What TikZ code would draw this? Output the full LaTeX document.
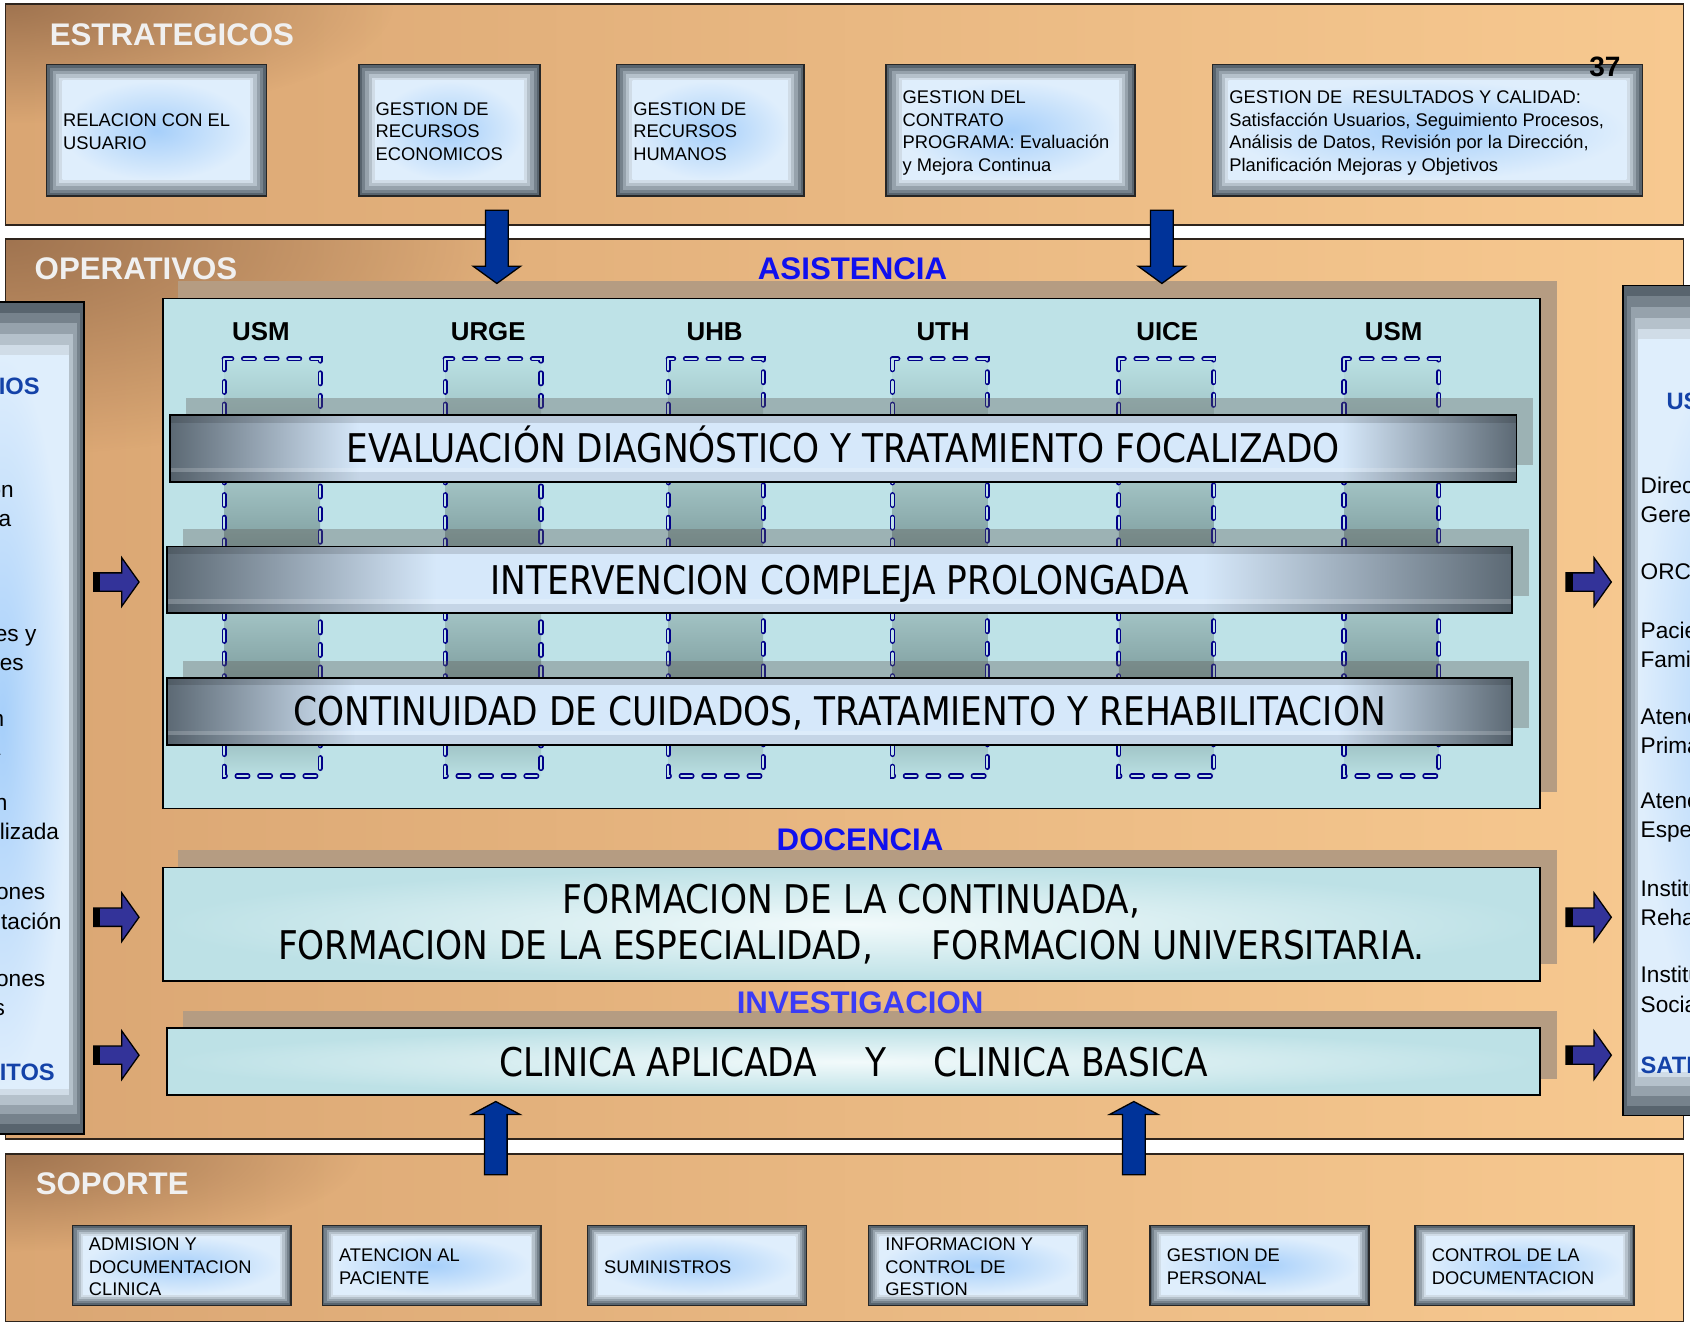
\documentclass[tikz,border=0pt]{standalone}
\usepackage{fontspec}
\setmainfont{Liberation Sans}
\newfontfamily\tah[FakeStretch=0.87]{DejaVu Sans}
\usetikzlibrary{calc,fadings}

\definecolor{orL}{HTML}{DAA673}
\definecolor{orR}{HTML}{F7C990}
\definecolor{cornerB}{HTML}{A07450}
\definecolor{bandB}{HTML}{2E241C}
\definecolor{titleC}{HTML}{F0F0F0}
\definecolor{taupe}{HTML}{B59C82}
\definecolor{panelCyan}{HTML}{BEE2E7}
\definecolor{colA}{HTML}{BAE0E3}
\definecolor{colB}{HTML}{A0C4C6}
\definecolor{colC}{HTML}{A2C3C4}
\definecolor{colD}{HTML}{7F9E9F}
\definecolor{dashBlue}{HTML}{000088}
\definecolor{dashIn}{HTML}{C2E3E8}
\definecolor{shadowgray}{HTML}{5F5A55}
\definecolor{barDark}{HTML}{5C6974}
\definecolor{barLight}{HTML}{D6E8FA}
\definecolor{bvA}{HTML}{58646E}
\definecolor{bvB}{HTML}{76828C}
\definecolor{bvC}{HTML}{96A2AC}
\definecolor{bvD}{HTML}{B5C1CB}
\definecolor{bvE}{HTML}{D0DCE7}
\definecolor{glowIn}{HTML}{A6CFFA}
\definecolor{glowOut}{HTML}{DFEEFC}
\definecolor{docIn}{HTML}{F2FAFB}
\definecolor{docOut}{HTML}{BDE1E6}
\definecolor{arrBlue}{HTML}{003399}
\definecolor{arrIndigo}{HTML}{333399}
\definecolor{lblBlue}{HTML}{1010EE}
\definecolor{lblBlueB}{HTML}{3B3BF5}
\definecolor{panelBlue}{HTML}{1442A8}

\tikzfading[name=cornerfade, inner color=transparent!0, outer color=transparent!100]

\newcommand{\bandbg}[5]{%
  \shade[left color=orL, right color=orR] (#1,#2) rectangle (#3,#4);
  \begin{scope}
    \clip (#1,#2) rectangle (#3,#4);
    \fill[cornerB, path fading=cornerfade] (#1,#2) ellipse (#5);
  \end{scope}
  \draw[bandline] (#1,#2) rectangle (#3,#4);}

\newcommand{\vblockdown}[1]{\draw[vblock] (#1) ++(-10.5,0) -- ++(0,52) -- ++(-11.5,0) -- ++(22,16) -- ++(22,-16) -- ++(-11.5,0) -- ++(0,-52) -- cycle;}
\newcommand{\vblockup}[1]{\draw[vblock] (#1) ++(-10.5,0) -- ++(0,-56) -- ++(-12,0) -- ++(22.5,-12) -- ++(22.5,12) -- ++(-12,0) -- ++(0,56) -- cycle;}
\newcommand{\hblockright}[1]{\draw[hblock] (#1) ++(0,-8.5) -- ++(26,0) -- ++(0,-14) -- ++(16,22.5) -- ++(-16,22.5) -- ++(0,-14) -- ++(-26,0) -- cycle;
  \fill[black] (#1) ++(0,-8.5) rectangle ++(6,17);}

\tikzset{
  bandline/.style={draw=bandB, line width=1.6pt},
  ttl/.style={font=\bfseries\fontsize{29}{32}\selectfont, text=titleC, inner sep=0pt, anchor=west},
  seclbl/.style={font=\bfseries\fontsize{29}{32}\selectfont, inner sep=0pt},
  hdr/.style={font=\bfseries\fontsize{24}{28}\selectfont, inner sep=0pt},
  boxtxt/.style={font=\fontsize{17}{21}\selectfont, align=left, inner sep=0pt, anchor=west},
  paneltxt/.style={font=\fontsize{21}{27}\selectfont, align=left, inner sep=0pt, anchor=west},
  panelttl/.style={font=\bfseries\fontsize{22}{27}\selectfont, text=panelBlue, inner sep=0pt},
  tahtxt/.style={font=\tah\fontsize{36.7}{42}\selectfont},
  barshadow/.style={fill=shadowgray, fill opacity=0.35},
  vblock/.style={fill=arrBlue, draw=black, line width=1.2pt},
  hblock/.style={fill=arrIndigo, draw=black, line width=1.2pt},
  coldash/.style={draw=dashBlue, line width=1.4pt, double=dashIn, double distance=2pt, dash pattern=on 10pt off 11pt, line cap=round},
  bevbox/.style={draw=black!85, line width=1.3pt, inner sep=0pt, path picture={
    \foreach \k/\c in {0/bvA,1/bvB,2/bvC,3/bvD,4/bvE}{
      \fill[\c] ([shift={(\k*#1,\k*#1)}]path picture bounding box.south west) rectangle ([shift={(-\k*#1,-\k*#1)}]path picture bounding box.north east);}
    \shade[inner color=glowIn, outer color=glowOut] ([shift={(5*#1,5*#1)}]path picture bounding box.south west) rectangle ([shift={(-5*#1,-5*#1)}]path picture bounding box.north east);
  }},
  barbox/.style 2 args={draw=black, line width=1.5pt, minimum height=62pt, inner sep=0pt, text height=27pt, text depth=0pt,
    font=\tah\fontsize{36.7}{40}\selectfont,
    path picture={
      \coordinate (ppsw) at (path picture bounding box.south west);
      \coordinate (ppne) at (path picture bounding box.north east);
      \coordinate (ppse) at (path picture bounding box.south east);
      \coordinate (ppa) at ($(ppsw)!#1!(ppse)$);
      \coordinate (ppb) at ($(ppsw)!#2!(ppse)$);
      \shade[left color=barDark, right color=barLight] (ppsw) rectangle (ppa |- ppne);
      \fill[barLight] (ppa) rectangle (ppb |- ppne);
      \shade[left color=barLight, right color=barDark] (ppb) rectangle (ppne);
      \fill[black, opacity=0.13] (ppsw |- ppne) rectangle ([yshift=-7pt]ppne);
      \fill[black, opacity=0.08] (ppsw) rectangle ([yshift=9pt]ppse);
      \fill[white, opacity=0.18] ([yshift=9pt]ppsw) rectangle ([yshift=13pt]ppse);
  }},
}

\begin{document}
\begin{tikzpicture}[x=1pt,y=-1pt]
\useasboundingbox (0,0) rectangle (1568,1230);
\clip (0,0) rectangle (1568,1230);
\fill[white] (0,0) rectangle (1568,1230);

% ---------- bands ----------
\bandbg{5}{4}{1562}{209}{360pt and 110pt}
\bandbg{5}{222}{1562}{1057}{480pt and 200pt}
\bandbg{5}{1071}{1562}{1226}{330pt and 90pt}

\node[ttl] (testr) at (46,32) {ESTRATEGICOS};
\node[ttl] (toper) at (32,249) {OPERATIVOS};
\node[ttl] (tsop) at (33,1098) {SOPORTE};

% ---------- left panel ----------
\begin{scope}
  \fill[bvA] (-60,280) rectangle (78,1052);
  \foreach \k/\c in {1/bvB,2/bvC,3/bvD,4/bvE}{
    \fill[\c] (-60,{280+10*\k}) rectangle ({78-3.5*\k},{1052-9*\k});}
  \shade[inner color=glowIn, outer color=glowOut] (-60,330) rectangle (64,1010);
  \clip (-60,280) rectangle (78,1052);
  \node[panelttl, anchor=east] (lp0) at (37,358) {USUARIOS};
  \node[paneltxt] (lp1) at (-75,467) {Dirección\\Gerencia};
  \node[paneltxt] (lp2) at (-75,532) {ORC};
  \node[paneltxt] (lp3) at (-75,601) {Pacientes y\\Familiares};
  \node[paneltxt] (lp4) at (-78,680) {Atención\\Primaria};
  \node[paneltxt] (lp5) at (-75,760) {Atención\\Especializada};
  \node[paneltxt] (lp6) at (-75,841) {Instituciones\\Rehabilitación};
  \node[paneltxt] (lp7) at (-75,921) {Instituciones\\Sociales};
  \node[panelttl, anchor=east] (lp8) at (51,997) {REQUISITOS};
\end{scope}
\draw[line width=1.5pt] (-60,280) rectangle (78,1052);

% ---------- right panel ----------
\begin{scope}
  \fill[bvA] (1506,265) rectangle (1720,1035);
  \foreach \k/\c in {1/bvB,2/bvC,3/bvD,4/bvE}{
    \fill[\c] ({1506+3.5*\k},{265+10*\k}) rectangle (1720,{1035-9*\k});}
  \shade[inner color=glowIn, outer color=glowOut] (1520,315) rectangle (1720,994);
  \clip (1506,265) rectangle (1720,1035);
  \node[panelttl, anchor=west] (rp0) at (1546,372) {USUARIOS};
  \node[paneltxt] (rp1) at (1522,464) {Dirección\\Gerencia};
  \node[paneltxt] (rp2) at (1522,530) {ORC};
  \node[paneltxt] (rp3) at (1522,598) {Pacientes y\\Familiares};
  \node[paneltxt] (rp4) at (1522,678) {Atención\\Primaria};
  \node[paneltxt] (rp5) at (1522,758) {Atención\\Especializada};
  \node[paneltxt] (rp6) at (1522,838) {Instituciones\\Rehabilitación};
  \node[paneltxt] (rp7) at (1522,918) {Instituciones\\Sociales};
  \node[panelttl, anchor=west] (rp8) at (1522,988) {SATISFACCION};
\end{scope}
\draw[line width=1.5pt] (1506,265) rectangle (1720,1035);

% ---------- shadows ----------
\fill[taupe] (165,261) rectangle (1445,735);
\fill[taupe] (165,789) rectangle (1445,894);
\fill[taupe] (170,938) rectangle (1445,1001);

% ---------- asistencia panel ----------
\node[draw=black, line width=1.5pt, fill=panelCyan, minimum width=1278pt, minimum height=473pt, inner sep=0pt] (asis) at (790,513.5) {};

\foreach \xa/\xb in {208/297,413/502,620/708,828/916,1038/1126,1247/1335}{
  \shade[top color=colA, bottom color=colB] (\xa,333) rectangle (\xb,386);
  \shade[top color=colC, bottom color=colD] (\xa,446) rectangle (\xb,508);
  \shade[top color=colC, bottom color=colD] (\xa,568) rectangle (\xb,630);
  \shade[top color=colB, bottom color=colA] (\xa,690) rectangle (\xb,720);
  \draw[coldash] (\xa,333) rectangle (\xb,720);
}

\node[hdr] (h1) at (242,308) {USM};
\node[hdr] (h2) at (453,308) {URGE};
\node[hdr] (h3) at (663,308) {UHB};
\node[hdr] (h4) at (875,308) {UTH};
\node[hdr] (h5) at (1083,308) {UICE};
\node[hdr] (h6) at (1293,308) {USM};

\fill[barshadow] (173,369) rectangle (1422,431);
\fill[barshadow] (170,491) rectangle (1419,553);
\fill[barshadow] (170,613) rectangle (1419,675);

\node[barbox={0.14}{0.87}, minimum width=1249pt] (bar1) at (782.5,416) {EVALUACIÓN DIAGNÓSTICO Y TRATAMIENTO FOCALIZADO};
\node[barbox={0.20}{0.77}, minimum width=1248pt] (bar2) at (779,538) {INTERVENCION COMPLEJA PROLONGADA};
\node[barbox={0.14}{0.87}, minimum width=1248pt] (bar3) at (779,660) {CONTINUIDAD DE CUIDADOS, TRATAMIENTO Y REHABILITACION};

\node[seclbl, text=lblBlue] (lasis) at (791,249) {ASISTENCIA};

% ---------- docencia / investigacion ----------
\node[seclbl, text=lblBlue] (ldoc) at (798,779) {DOCENCIA};
\node[draw=black, line width=1.5pt, inner color=docIn, outer color=docOut, minimum width=1278pt, minimum height=105pt, inner sep=0pt, align=center, tahtxt] (doc) at (790,857.5)
  {FORMACION DE LA CONTINUADA,\\FORMACION DE LA ESPECIALIDAD,\hspace{44pt} FORMACION UNIVERSITARIA.};

\node[seclbl, text=lblBlueB] (linv) at (798,930) {INVESTIGACION};
\node[draw=black, line width=1.5pt, inner color=docIn, outer color=docOut, minimum width=1274pt, minimum height=62pt, inner sep=0pt, tahtxt] (inv) at (792,985)
  {CLINICA APLICADA\hspace{34pt} Y\hspace{34pt} CLINICA BASICA};

% ---------- estrategicos boxes ----------
\node[bevbox=3pt, minimum width=204pt, minimum height=122pt] (e1) at (145,121) {};
\node[bevbox=3pt, minimum width=168pt, minimum height=122pt] (e2) at (417,121) {};
\node[bevbox=3pt, minimum width=174pt, minimum height=122pt] (e3) at (659,121) {};
\node[bevbox=3pt, minimum width=231pt, minimum height=122pt] (e4) at (937.5,121) {};
\node[bevbox=3pt, minimum width=399pt, minimum height=122pt] (e5) at (1324.5,121) {};
\node[boxtxt] (e1t) at ([xshift=16pt,yshift=-1pt]e1.west) {RELACION CON EL\\USUARIO};
\node[boxtxt] (e2t) at ([xshift=16pt,yshift=-1pt]e2.west) {GESTION DE\\RECURSOS\\ECONOMICOS};
\node[boxtxt] (e3t) at ([xshift=16pt,yshift=-1pt]e3.west) {GESTION DE\\RECURSOS\\HUMANOS};
\node[boxtxt] (e4t) at ([xshift=16pt,yshift=-2.5pt]e4.west) {GESTION DEL\\CONTRATO\\PROGRAMA: Evaluación\\y Mejora Continua};
\node[boxtxt] (e5t) at ([xshift=16pt,yshift=-2.5pt]e5.west) {GESTION DE\ \ RESULTADOS Y CALIDAD:\\Satisfacción Usuarios, Seguimiento Procesos,\\Análisis de Datos, Revisión por la Dirección,\\Planificación Mejoras y Objetivos};
\node[font=\bfseries\fontsize{26}{30}\selectfont, inner sep=0pt] (pnum) at (1489,62) {37};

% ---------- soporte boxes ----------
\foreach \n/\cx in {s1/168.5,s2/400.5,s3/646.5,s4/907.5,s5/1168.5,s6/1414.5}{
  \node[bevbox=2pt, minimum width=203pt, minimum height=74pt] (\n) at (\cx,1174) {};
}
\node[boxtxt] (s1t) at ([xshift=16pt,yshift=-1.5pt]s1.west) {ADMISION Y\\DOCUMENTACION\\CLINICA};
\node[boxtxt] (s2t) at ([xshift=16pt,yshift=-1.5pt]s2.west) {ATENCION AL\\PACIENTE};
\node[boxtxt] (s3t) at ([xshift=16pt,yshift=-1.5pt]s3.west) {SUMINISTROS};
\node[boxtxt] (s4t) at ([xshift=16pt,yshift=-1.5pt]s4.west) {INFORMACION Y\\CONTROL DE\\GESTION};
\node[boxtxt] (s5t) at ([xshift=16pt,yshift=-1.5pt]s5.west) {GESTION DE\\PERSONAL};
\node[boxtxt] (s6t) at ([xshift=16pt,yshift=-1.5pt]s6.west) {CONTROL DE LA\\DOCUMENTACION};

% ---------- arrows ----------
\coordinate (dA) at (461,195);
\coordinate (dB) at (1078,195);
\coordinate (uA) at (460,1090);
\coordinate (uB) at (1052,1090);
\vblockdown{dA}
\vblockdown{dB}
\vblockup{uA}
\vblockup{uB}
\foreach \yy [count=\i] in {540,851,979}{
  \coordinate (rL\i) at (87,\yy);
  \coordinate (rR\i) at (1453,\yy);
  \hblockright{rL\i}
  \hblockright{rR\i}
}
\end{tikzpicture}
\end{document}
